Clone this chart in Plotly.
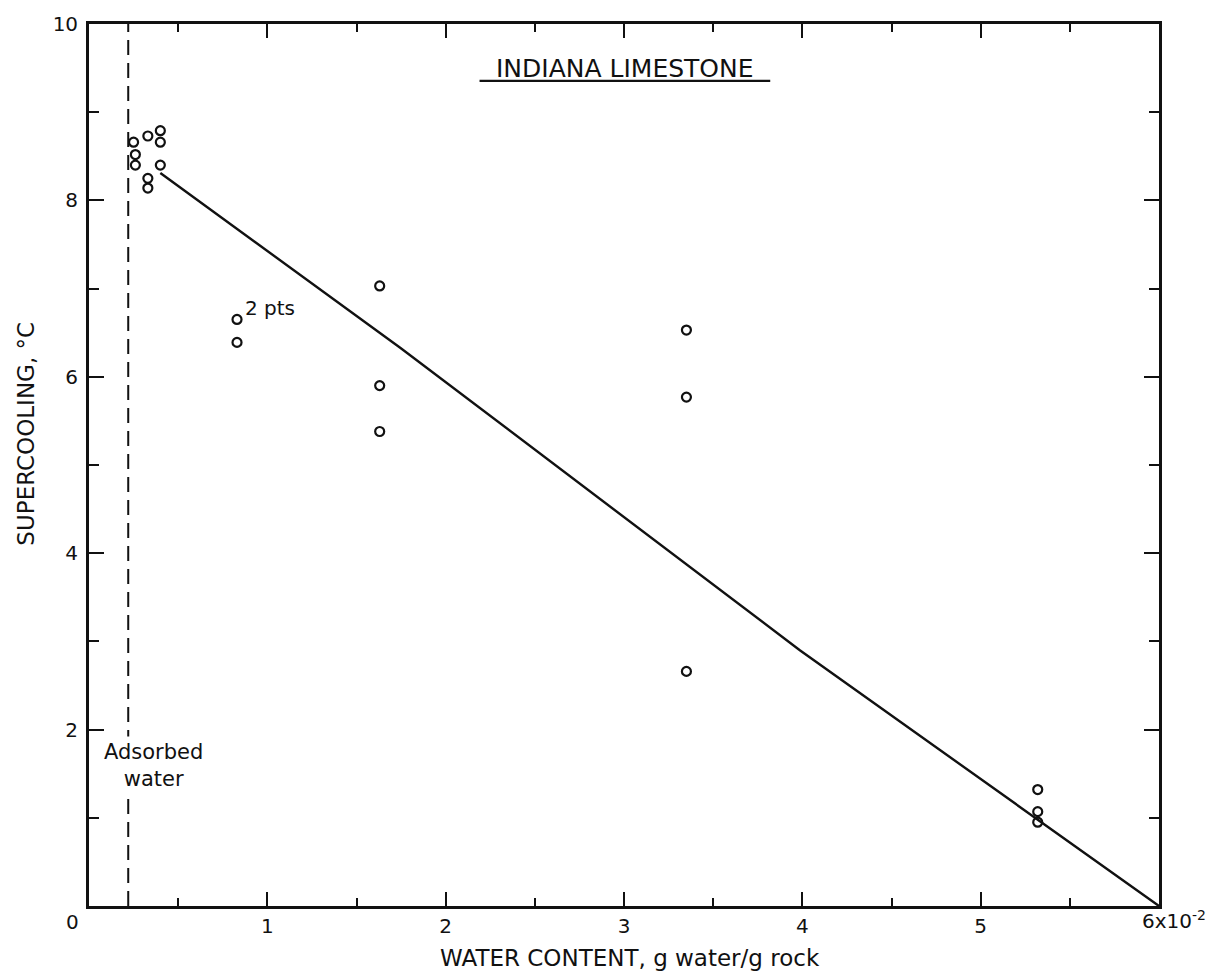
import plotly.graph_objects as go

# Data
pts_x = [0.25, 0.26, 0.26, 0.33, 0.40, 0.40, 0.40, 0.33, 0.33,
         0.83, 0.83,
         1.63, 1.63, 1.63,
         3.35, 3.35, 3.35,
         5.32, 5.32, 5.32]
pts_y = [8.66, 8.52, 8.40, 8.73, 8.79, 8.66, 8.40, 8.25, 8.14,
         6.65, 6.39,
         7.03, 5.90, 5.38,
         6.53, 5.77, 2.66,
         1.32, 1.07, 0.95]

fit_x = [0.40, 1.745, 3.986, 6.0]
fit_y = [8.31, 6.33, 2.90, 0.0]

adsorbed_x = [0.22, 0.22]
adsorbed_y = [0, 10]

x_tickvals = [0, 1, 2, 3, 4, 5, 6]
x_ticktext = ["", "1", "2", "3", "4", "5", ""]
x_minor = [0.5, 1.5, 2.5, 3.5, 4.5, 5.5]
y_tickvals = [0, 2, 4, 6, 8, 10]
y_ticktext = ["", "2", "4", "6", "8", "10"]
y_minor = [1, 3, 5, 7, 9]

INK = "#111111"
FONT = "DejaVu Sans"

fig = go.Figure()
fig.add_trace(go.Scatter(x=adsorbed_x, y=adsorbed_y, mode="lines",
                         line=dict(color=INK, width=2, dash="15px,8px"),
                         hoverinfo="skip", showlegend=False))
fig.add_trace(go.Scatter(x=fit_x, y=fit_y, mode="lines",
                         line=dict(color=INK, width=2.4),
                         showlegend=False))
fig.add_trace(go.Scatter(x=pts_x, y=pts_y, mode="markers",
                         marker=dict(symbol="circle-open", size=9,
                                     color=INK, line=dict(width=2.2, color=INK)),
                         showlegend=False))

W, H = 1220, 973
L, R, T, B = 88.5, 1159.5, 22, 906
pw, ph = R - L, B - T

def px(xp):
    return (xp - L) / pw

def py(yp):
    return (B - yp) / ph

axis_common = dict(showgrid=False, zeroline=False, showline=True, linecolor=INK,
                   linewidth=2.8, mirror="allticks", ticks="inside",
                   tickcolor=INK, tickwidth=2.4,
                   tickfont=dict(family=FONT, size=20, color=INK))

fig.update_xaxes(range=[0, 6], tickmode="array", tickvals=x_tickvals,
                 ticktext=x_ticktext, ticklen=14,
                 minor=dict(tickmode="array", tickvals=x_minor, ticks="inside",
                            ticklen=8, tickcolor=INK, tickwidth=2.4, showgrid=False),
                 **axis_common)
fig.update_yaxes(range=[0, 10], tickmode="array", tickvals=y_tickvals,
                 ticktext=y_ticktext, ticklen=15, ticklabelstandoff=4,
                 minor=dict(tickmode="array", tickvals=y_minor, ticks="inside",
                            ticklen=10, tickcolor=INK, tickwidth=2.4, showgrid=False),
                 **axis_common)

def ann(text, x, y, xref, yref, size, xanchor="center", **kw):
    return dict(text=text, x=x, y=y, xref=xref, yref=yref, xanchor=xanchor,
                yanchor="middle", showarrow=False,
                font=dict(family=FONT, size=size, color=INK), **kw)

annotations = [
    ann("INDIANA LIMESTONE", 3.006, 9.49, "x", "y", 25),
    ann("Adsorbed<br>water", 0.361, 1.595, "x", "y", 21, align="center",
        bgcolor="white", borderpad=3),
    ann("2 pts", 0.866, 6.78, "x", "y", 20, xanchor="left"),
    ann("SUPERCOOLING, °C", px(26), py(433), "paper", "paper", 23, textangle=-90),
    ann("WATER CONTENT, g water/g rock", px(630), py(958), "paper", "paper", 23),
    ann("0", px(72), py(922), "paper", "paper", 20),
    ann("6x10<sup>-2</sup>", px(1140), py(920), "paper", "paper", 20, xanchor="left"),
]

shapes = [
    dict(type="line", xref="x", yref="y", x0=2.19, x1=3.82, y0=9.355, y1=9.355,
         line=dict(color=INK, width=2.4)),
]

fig.update_layout(width=W, height=H, autosize=False,
                  margin=dict(l=L, r=W - R, t=T, b=H - B, pad=0),
                  paper_bgcolor="white", plot_bgcolor="white",
                  annotations=annotations, shapes=shapes,
                  font=dict(family=FONT, color=INK))

fig.write_html("out.html")
